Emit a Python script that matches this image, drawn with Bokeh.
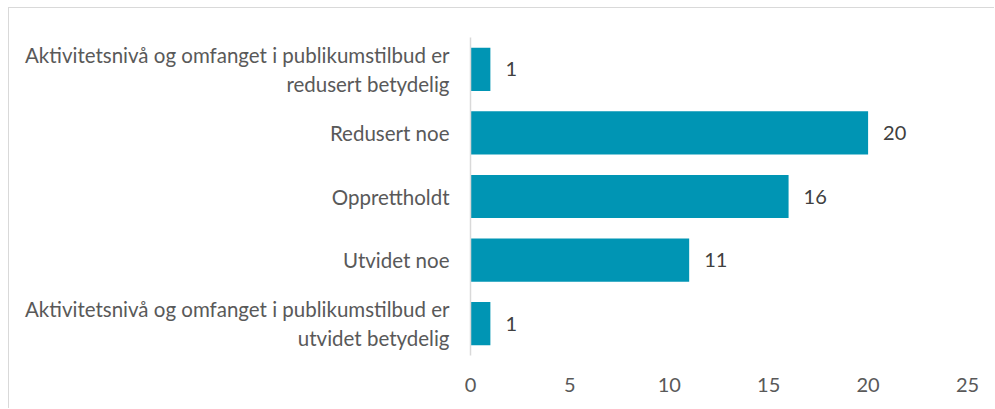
from bokeh.plotting import figure
from bokeh.models import ColumnDataSource, FactorRange, Range1d, FixedTicker
from bokeh.core.properties import value
from bokeh.embed import file_html
from bokeh.resources import INLINE

categories = [
    "Aktivitetsnivå og omfanget i publikumstilbud er\nredusert betydelig",
    "Redusert noe",
    "Opprettholdt",
    "Utvidet noe",
    "Aktivitetsnivå og omfanget i publikumstilbud er\nutvidet betydelig",
]
counts = [1, 20, 16, 11, 1]
x_ticks = [0, 5, 10, 15, 20, 25]

FONT = "Lato"
BAR = "#0095B4"
TXT = "#595959"

src = ColumnDataSource(dict(cat=categories, val=counts, lbl=[str(v) for v in counts]))

p = figure(
    width=986, height=401,
    y_range=FactorRange(*list(reversed(categories))),
    x_range=Range1d(0, 25),
    output_backend="svg", toolbar_location=None,
    min_border_left=461, min_border_right=28, min_border_top=29, min_border_bottom=54,
)
p.styles = {"border-top": "1px solid #d9d9d9", "border-left": "1px solid #d9d9d9",
            "margin": "7px 0 0 8px"}
p.outline_line_color = None
p.background_fill_color = "white"
p.border_fill_color = "white"

p.hbar(y="cat", right="val", left=0, height=0.68, source=src,
       fill_color=BAR, line_color=None)
p.text(x="val", y="cat", text="lbl", source=src, x_offset=15,
       text_align="left", text_baseline="middle",
       text_font=value(FONT), text_font_size="20px", text_color="#404040")

p.xgrid.grid_line_color = None
p.ygrid.grid_line_color = None

p.xaxis.ticker = FixedTicker(ticks=x_ticks)
p.xaxis.axis_line_color = None
p.xaxis.major_tick_line_color = None
p.xaxis.minor_tick_line_color = None
p.xaxis.major_label_standoff = 16
p.xaxis.major_label_text_font = FONT
p.xaxis.major_label_text_font_size = "20px"
p.xaxis.major_label_text_color = TXT

p.yaxis.axis_line_color = "#d9d9d9"
p.yaxis.axis_line_width = 1.5
p.yaxis.major_tick_line_color = None
p.yaxis.minor_tick_line_color = None
p.yaxis.major_label_standoff = 15
p.yaxis.major_label_text_font = FONT
p.yaxis.major_label_text_font_size = "20.5px"
p.yaxis.major_label_text_color = TXT

open("out.html", "w").write(file_html(p, INLINE))
